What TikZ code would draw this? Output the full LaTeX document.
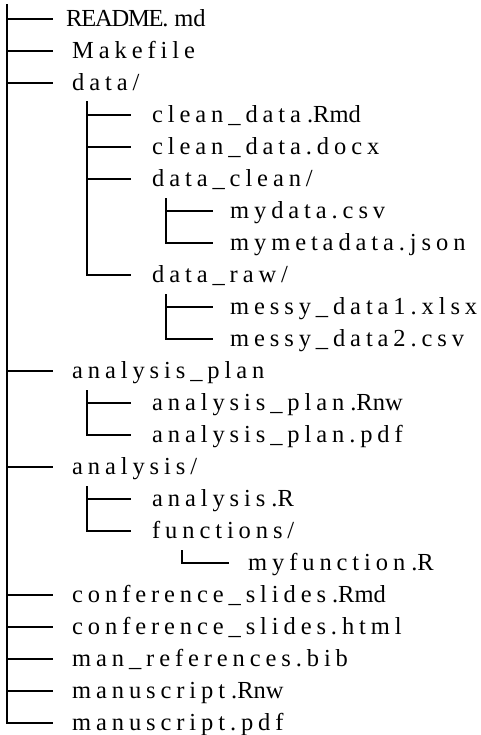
\documentclass[tikz,border=0pt]{standalone}
\usepackage{fontspec}
\setmainfont{Liberation Serif}
\newfontfamily\lsfont[LetterSpace=20]{Liberation Serif}
\newfontfamily\tightfont[LetterSpace=-5]{Liberation Serif}
\newcommand\tgt[1]{\kern6pt{\rmfamily #1}}
\tikzset{
  tree/.style={line width=2.6pt, line cap=rect, black},
  item/.style={anchor=base west, inner sep=0pt, font={\fontsize{24.5}{29}\lsfont}},
}
\newcommand\branch[6]{%
  \pgfmathsetmacro\yy{19+32*#5}%
  \coordinate (b#1) at (#2,\yy);
  \coordinate (e#1) at (#3,\yy);
  \node[item] (t#1) at (#4,{\yy+7.5}) {#6};
  \draw[tree] (b#1) -- (e#1);
}
\begin{document}
\begin{tikzpicture}[x=1pt,y=-1pt]
\useasboundingbox (0,0) rectangle (480,735);
\branch{0}{7}{52}{66}{0}{{\tightfont README.}\kern6pt{\rmfamily md}}
\branch{1}{7}{52}{72}{1}{Makefile}
\branch{2}{7}{52}{72}{2}{data/}
\branch{3}{87}{130}{152}{3}{clean\_data\tgt{.Rmd}}
\branch{4}{87}{130}{152}{4}{clean\_data.docx}
\branch{5}{87}{130}{152}{5}{data\_clean/}
\branch{6}{166}{212}{230}{6}{mydata.csv}
\branch{7}{166}{212}{230}{7}{mymetadata.json}
\branch{8}{87}{130}{152}{8}{data\_raw/}
\branch{9}{166}{212}{230}{9}{messy\_data1.xlsx}
\branch{10}{166}{212}{230}{10}{messy\_data2.csv}
\branch{11}{7}{52}{72}{11}{analysis\_plan}
\branch{12}{87}{130}{152}{12}{analysis\_plan\tgt{.Rnw}}
\branch{13}{87}{130}{152}{13}{analysis\_plan.pdf}
\branch{14}{7}{52}{72}{14}{analysis/}
\branch{15}{87}{130}{152}{15}{analysis\tgt{.R}}
\branch{16}{87}{130}{152}{16}{functions/}
\branch{17}{182}{228}{248}{17}{myfunction\tgt{.R}}
\branch{18}{7}{52}{72}{18}{conference\_slides\tgt{.Rmd}}
\branch{19}{7}{52}{72}{19}{conference\_slides.html}
\branch{20}{7}{52}{72}{20}{man\_references.bib}
\branch{21}{7}{52}{72}{21}{manuscript\tgt{.Rnw}}
\branch{22}{7}{52}{72}{22}{manuscript.pdf}
% vertical connectors
\coordinate (r0) at (7,5);
\draw[tree] (r0) -- (b22);
\coordinate (v2) at (87,102);
\draw[tree] (v2) -- (b8);
\coordinate (v5) at (166,199);
\draw[tree] (v5) -- (b7);
\coordinate (v8) at (166,295);
\draw[tree] (v8) -- (b10);
\coordinate (v11) at (87,391);
\draw[tree] (v11) -- (b13);
\coordinate (v14) at (87,487);
\draw[tree] (v14) -- (b16);
\coordinate (v16) at (182,551);
\draw[tree] (v16) -- (b17);
\end{tikzpicture}
\end{document}
